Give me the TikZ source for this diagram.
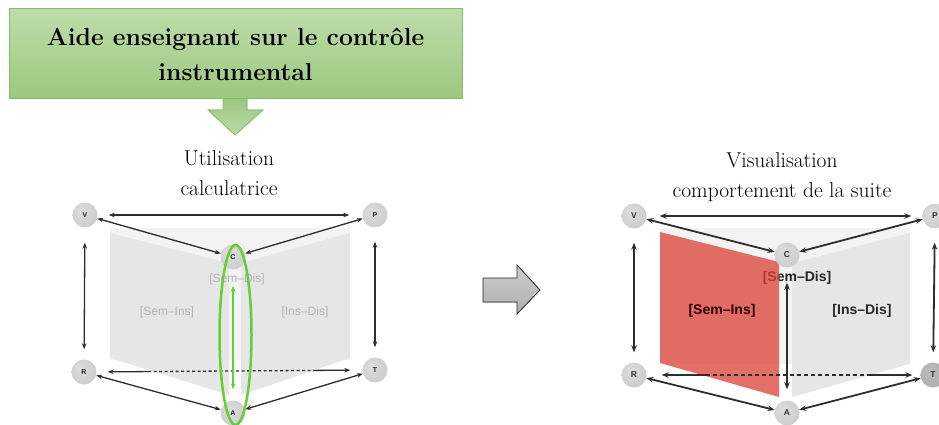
\documentclass[tikz,border=0pt]{standalone}
\usepackage{fontspec}
\newfontfamily\labfont{Liberation Sans}
\usetikzlibrary{arrows.meta,calc}
\definecolor{boxtop}{RGB}{190,220,170}
\definecolor{boxbot}{RGB}{156,200,126}
\definecolor{boxedge}{RGB}{132,190,102}
\definecolor{lnk}{RGB}{45,45,45}
\definecolor{panelL}{RGB}{230,230,230}
\definecolor{panelBg}{RGB}{243,243,243}
\definecolor{redp}{RGB}{218,63,52}
\definecolor{grn}{RGB}{100,206,50}
\pgfdeclareradialshading{sph}{\pgfpoint{-8bp}{8bp}}{color(0bp)=(gray!26); color(22bp)=(gray!36); color(50bp)=(gray!48); color(70bp)=(gray!56)}
\pgfdeclareradialshading{sphT}{\pgfpoint{-8bp}{8bp}}{color(0bp)=(gray!52); color(22bp)=(gray!60); color(50bp)=(gray!72); color(70bp)=(gray!80)}
\begin{document}
\begin{tikzpicture}[x=1pt,y=-1pt,
  sphere/.style={circle,minimum size=25pt,inner sep=0pt,shading=sph,
    font=\labfont\bfseries\fontsize{7}{8}\selectfont,text=gray!25!black},
  sphereR/.style={sphere,font=\labfont\bfseries\fontsize{8.5}{9}\selectfont,text=black!80},
  lk/.style={draw=lnk,line width=1.3pt,arrows={Stealth[length=6pt,width=4.5pt]-Stealth[length=6pt,width=4.5pt]}},
  lkR/.style={draw=lnk,line width=1.8pt,arrows={Stealth[length=7pt,width=5.5pt]-Stealth[length=7pt,width=5.5pt]}},
  lkS/.style={draw=lnk,line width=1.3pt,arrows={Stealth[length=6pt,width=4.5pt]-}},
  lkE/.style={draw=lnk,line width=1.3pt,arrows={-Stealth[length=6pt,width=4.5pt]}},
  lkSR/.style={draw=lnk,line width=1.8pt,arrows={Stealth[length=7pt,width=5.5pt]-}},
  lkER/.style={draw=lnk,line width=1.8pt,arrows={-Stealth[length=7pt,width=5.5pt]}},
  labL/.style={font=\labfont\fontsize{12}{14}\selectfont,text=gray!60},
  labR/.style={font=\labfont\bfseries\fontsize{14}{16}\selectfont,text=black!85},
  capt/.style={font=\fontsize{21.5}{30}\selectfont,align=center,anchor=north},
  titlebox/.style={draw=boxedge,line width=1pt,top color=boxtop,bottom color=boxbot,
    minimum width=453pt,minimum height=90pt,align=center,font=\bfseries\fontsize{24.7}{35}\selectfont}
]
\useasboundingbox (0,0) rectangle (939,425);

% ---------- title box and its arrow ----------
\filldraw[draw=boxedge,line width=0.8pt,top color=boxbot,bottom color=boxtop!90!boxbot]
  (223,98) -- (247,98) -- (247,110) -- (263,110) -- (235,135) -- (208,110) -- (223,110) -- cycle;
\node[titlebox] (title) at (235.5,54) {Aide enseignant sur le contrôle\\instrumental};

% ---------- captions ----------
\node[capt] (capL) at (229,147) {Utilisation\\calculatrice};
\node[capt] (capR) at (782,149) {Visualisation\\comportement de la suite};

% ---------- middle arrow ----------
\filldraw[draw=black!85,line width=0.8pt,top color=gray!40,bottom color=gray!62]
  (483,278) -- (517,278) -- (517,265) -- (540,290) -- (517,314) -- (517,302) -- (483,302) -- cycle;

% ================= LEFT DIAGRAM =================
\fill[panelBg] (110,228) rectangle (350,360);
\fill[panelL] (110,233) -- (229,263) -- (229,395) -- (110,358) -- cycle;
\fill[panelL] (241,263) -- (350,233) -- (350,358) -- (241,395) -- cycle;

\node[sphere] (lV) at (85,215) {V};
\node[sphere] (lP) at (375,215) {P};
\node[sphere] (lC) at (233,257) {C};
\node[sphere] (lR) at (84,372) {R};
\node[sphere] (lT) at (375,370) {T};
\node[sphere] (lA) at (233,413) {A};

\node[labL] (lSD) at (237,279) {[Sem–Dis]};
\node[labL] (lSI) at (167,312) {[Sem–Ins]};
\node[labL] (lID) at (305,312) {[Ins–Dis]};

\draw[lk,shorten <=11pt,shorten >=13pt] (lV) -- (lP);
\draw[lk] (lV) -- (lC);
\draw[lk] (lP) -- (lC);
\draw[lk,shorten <=15pt,shorten >=10pt] (lV) -- (lR);
\draw[lk,shorten <=14pt,shorten >=10pt] (lP) -- (lT);
\draw[lk] (lR) -- (lA);
\draw[lk] (lT) -- (lA);
\coordinate (ld1) at ($(lR)!0.22!(lT)$);
\coordinate (ld2) at ($(lR)!0.79!(lT)$);
\draw[lkS,shorten <=11pt] (lR) -- (ld1);
\draw[lnk,line width=1.3pt,dash pattern=on 3pt off 2.5pt] (ld1) -- (ld2);
\draw[lkE,shorten >=12pt] (ld2) -- (lT);
\draw[grn,line width=1.5pt,arrows={Stealth[length=6pt,width=4.5pt]-Stealth[length=6pt,width=4.5pt]},
  shorten <=16pt,shorten >=11pt] (lC) -- (lA);
\draw[grn,line width=2.5pt] (235.5,335) ellipse [x radius=16, y radius=90];

% ================= RIGHT DIAGRAM =================
\fill[panelBg] (660,228) rectangle (910,364);
\fill[panelL] (792,263) -- (910,233) -- (910,364) -- (792,397) -- cycle;
\node[labR] (rSD) at (797,278) {[Sem–Dis]};
\fill[redp,fill opacity=0.75] (660,232) -- (779,262) -- (779,397) -- (660,363) -- cycle;
\node[labR,text=black!70!red!60!black] (rSI) at (722,311) {[Sem–Ins]};
\node[labR] (rID) at (862,311) {[Ins–Dis]};

\node[sphereR] (rV) at (634,216) {V};
\node[sphereR] (rP) at (935,216) {P};
\node[sphereR] (rC) at (787,255) {C};
\node[sphereR] (rR) at (634,375) {R};
\node[sphereR,shading=sphT] (rT) at (933,375) {T};
\node[sphereR] (rA) at (787,413) {A};

\draw[lkR,shorten <=13pt,shorten >=11pt] (rV) -- (rP);
\draw[lkR] (rV) -- (rC);
\draw[lkR] (rP) -- (rC);
\draw[lkR,shorten <=14pt,shorten >=10pt] (rV) -- (rR);
\draw[lkR,shorten <=14pt,shorten >=10pt] (rP) -- (rT);
\draw[lkR] (rR) -- (rA);
\draw[lkR] (rT) -- (rA);
\coordinate (rd1) at ($(rR)!0.24!(rT)$);
\coordinate (rd2) at ($(rR)!0.78!(rT)$);
\draw[lkSR,shorten <=15pt] (rR) -- (rd1);
\draw[lnk,line width=1.8pt,dash pattern=on 4pt off 3pt] (rd1) -- (rd2);
\draw[lkER,shorten >=8pt] (rd2) -- (rT);
\draw[lkR,shorten <=15pt,shorten >=11pt] (rC) -- (rA);
\end{tikzpicture}
\end{document}
